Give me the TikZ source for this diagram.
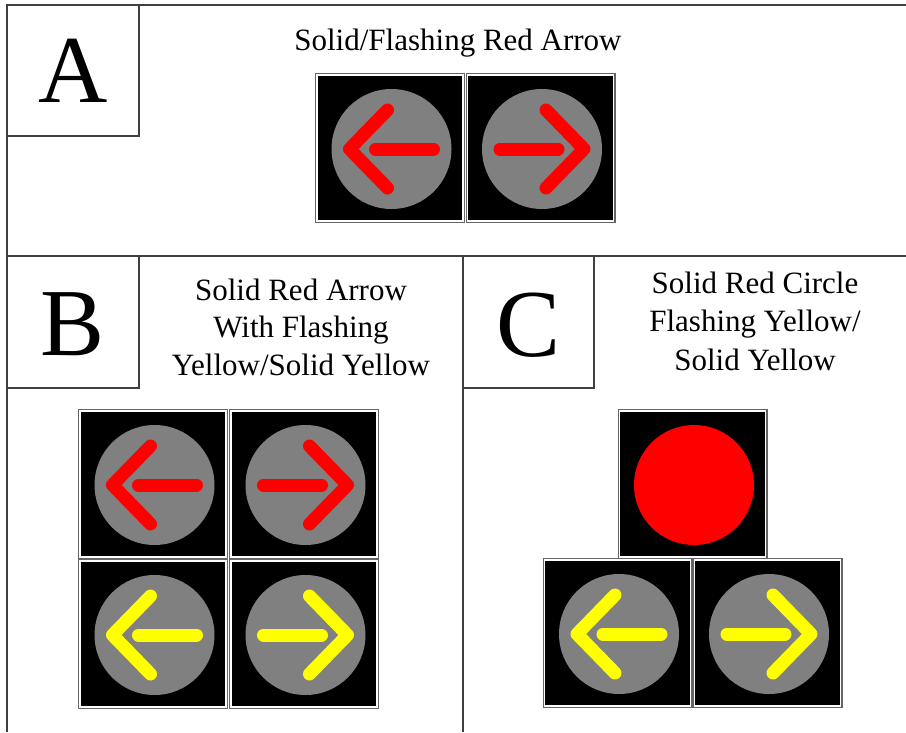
\documentclass[tikz,border=0pt]{standalone}
\usepackage{fontspec}
\setmainfont{Liberation Serif}
\definecolor{lampgray}{HTML}{808080}
\definecolor{sigred}{HTML}{FF0000}
\definecolor{sigyellow}{HTML}{FFFF00}
\tikzset{
  frame/.style={draw=black!75, line width=1.1pt},
  ttl/.style={font=\fontsize{23.25}{28}\selectfont, anchor=base, inner sep=0pt},
  big/.style={font=\fontsize{72}{80}\selectfont, anchor=base, inner sep=0pt},
  lamp/.style={line width=9.75pt, line cap=round, line join=round},
}
\newcommand\sighead[2]{%
  \fill[black!60] (#1,#2) rectangle (#1+150,#2+150);
  \fill[white] (#1+1.2,#2+1.2) rectangle (#1+148.8,#2+148.8);
  \fill[black] (#1+2.6,#2+2.6) rectangle (#1+147.4,#2+147.4);
}
\newcommand\lampdisc[3]{\fill[#3] (#1+76.5,#2+76) circle[radius=45pt];}
\newcommand\leftarr[3]{%
  \begin{scope}[shift={(#1+76.5,#2+76)}]
    \draw[lamp,#3] (-4,-39) -- (-42,0) -- (-4,39);
    \draw[lamp,#3] (-16,0) -- (42,0);
  \end{scope}}
\newcommand\rightarr[3]{%
  \begin{scope}[shift={(#1+76.5,#2+76)}]
    \draw[lamp,#3] (4,-39) -- (42,0) -- (4,39);
    \draw[lamp,#3] (16,0) -- (-42,0);
  \end{scope}}
\newcommand\arrowhead[4]{% x y dir colour
  \sighead{#1}{#2}
  \lampdisc{#1}{#2}{lampgray}
  \ifx l#3\leftarr{#1}{#2}{#4}\else\rightarr{#1}{#2}{#4}\fi}
\begin{document}
\begin{tikzpicture}[x=0.75pt,y=-0.75pt]
\useasboundingbox (0,0) rectangle (906,732);
% frame lines
\draw[frame] (6,5) -- (906,5);
\draw[frame] (7,5) -- (7,732);
\draw[frame] (7,256) -- (906,256);
\draw[frame] (463,256) -- (463,732);
% letter boxes
\draw[frame] (139,5) -- (139,136) -- (7,136);
\draw[frame] (139,256) -- (139,388) -- (7,388);
\draw[frame] (594,256) -- (594,388) -- (463,388);
\node[big] (la) at (73,102) {A};
\node[big] (lb) at (73,355) {B};
\node[big] (lc) at (528.5,356.5) {C};
% titles
\node[ttl] (ta) at (458,50) {Solid/Flashing Red Arrow};
\node[ttl] (tb1) at (301,300) {Solid Red Arrow};
\node[ttl] (tb2) at (301,337.5) {With Flashing};
\node[ttl] (tb3) at (301,375) {Yellow/Solid Yellow};
\node[ttl] (tc1) at (755,293) {Solid Red Circle};
\node[ttl] (tc2) at (755,331.5) {Flashing Yellow/};
\node[ttl] (tc3) at (755,370) {Solid Yellow};
% panel A
\arrowhead{315}{73}{l}{sigred}
\arrowhead{465.5}{73}{r}{sigred}
% panel B
\arrowhead{78}{409}{l}{sigred}
\arrowhead{229}{409}{r}{sigred}
\arrowhead{78}{559}{l}{sigyellow}
\arrowhead{229}{559}{r}{sigyellow}
% panel C
\sighead{617.5}{409}
\lampdisc{617.5}{409}{sigred}
\arrowhead{542.5}{558}{l}{sigyellow}
\arrowhead{692.5}{558}{r}{sigyellow}
\end{tikzpicture}
\end{document}
